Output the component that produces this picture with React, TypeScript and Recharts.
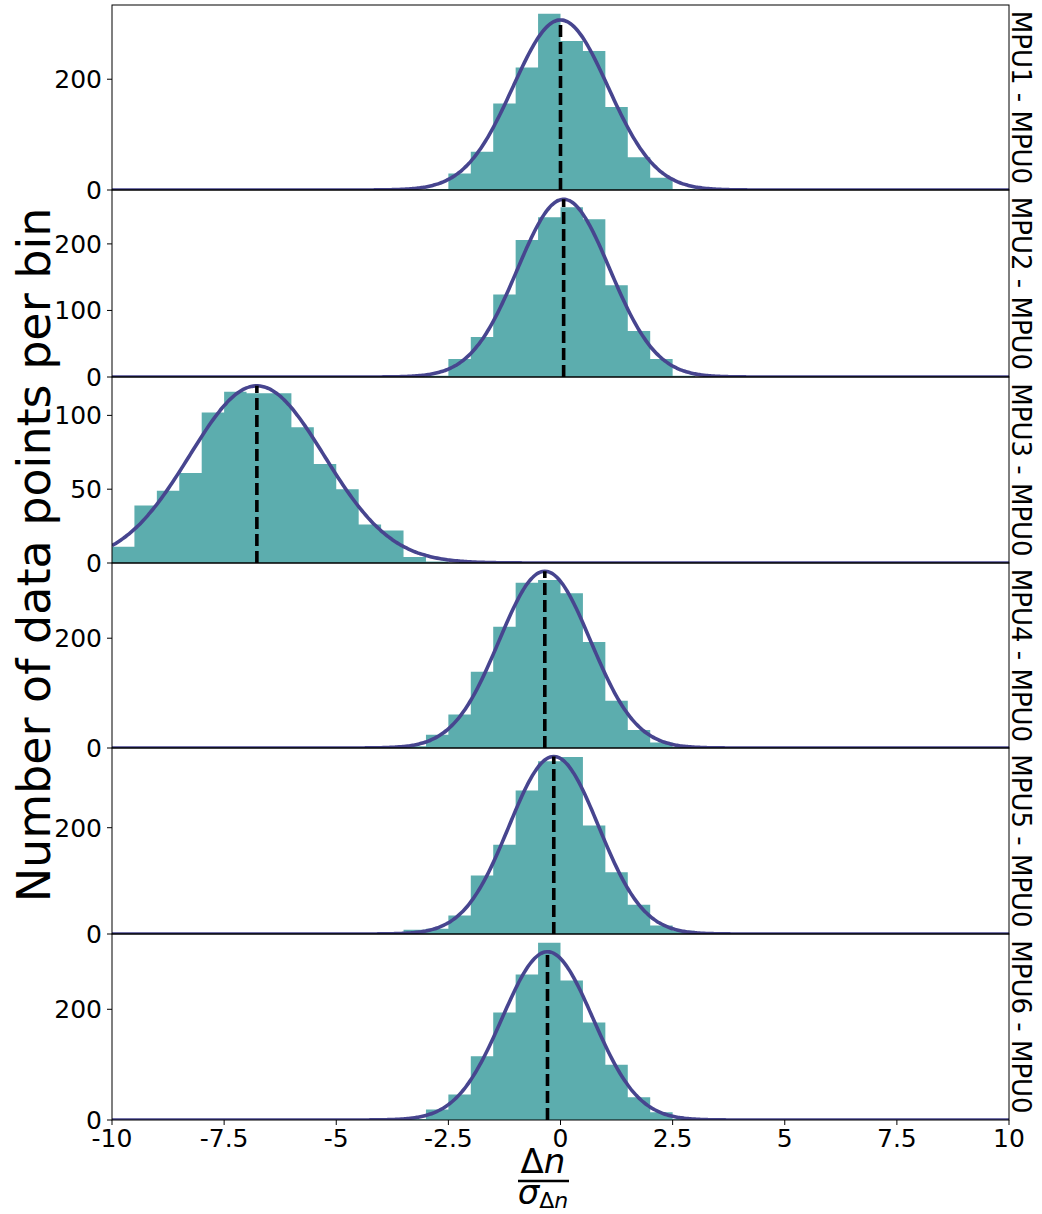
import React from "react";
import { ComposedChart, Area, Line, XAxis, YAxis, ReferenceLine } from "recharts";

// one entry per panel, top to bottom
const PANEL_LABELS = [
  "MPU1 - MPU0",
  "MPU2 - MPU0",
  "MPU3 - MPU0",
  "MPU4 - MPU0",
  "MPU5 - MPU0",
  "MPU6 - MPU0",
];

const BIN_WIDTH = 0.5;
const BIN_STARTS = [-3, -3, -10, -3.5, -3.5, -3.5];

const COUNTS_MPU1 = [2, 30, 69, 156, 221, 318, 269, 251, 150, 59, 22, 2];
const COUNTS_MPU2 = [2, 27, 60, 124, 206, 240, 255, 237, 138, 69, 27, 2];
const COUNTS_MPU3 = [11, 39, 49, 61, 102, 116, 115, 115, 92, 67, 50, 26, 22, 4, 1];
const COUNTS_MPU4 = [3, 24, 61, 139, 221, 301, 306, 282, 193, 86, 33, 10, 2];
const COUNTS_MPU5 = [8, 10, 35, 110, 168, 270, 325, 333, 204, 116, 55, 16, 6];
const COUNTS_MPU6 = [2, 19, 46, 115, 194, 263, 320, 252, 176, 100, 41, 14, 2];
const COUNTS = [COUNTS_MPU1, COUNTS_MPU2, COUNTS_MPU3, COUNTS_MPU4, COUNTS_MPU5, COUNTS_MPU6];

// gaussian fit
const FIT_MEANS = [0, 0.07, -6.77, -0.35, -0.15, -0.29];
const FIT_SIGMAS = [1.06, 1.03, 1.5, 1.02, 1.0, 1.01];
const FIT_PEAKS = [307, 267, 120, 322, 334, 304];

const Y_MAX = [334, 281, 126, 337, 350, 336];
const Y_TICKS = [[0, 200], [0, 100, 200], [0, 50, 100], [0, 200], [0, 200], [0, 200]];
const X_TICKS = [-10, -7.5, -5, -2.5, 0, 2.5, 5, 7.5, 10];

// layout
const W = 1042;
const PLOT_LEFT = 112;
const PLOT_RIGHT = 1009;
const EDGES = [5, 190, 377, 563, 748, 934, 1120];
const PAD = 16; // room above/below each plot so the edge tick labels are not clipped
const FONT = "DejaVu Sans";

const HIST_FILL = "#5cadae";
const FIT_COLOR = "#47458f";

function histRows(i: number) {
  const rows = COUNTS[i].map((c, k) => ({ x: BIN_STARTS[i] + k * BIN_WIDTH, h: c }));
  rows.push({ x: BIN_STARTS[i] + COUNTS[i].length * BIN_WIDTH, h: 0 });
  return rows;
}

function fitRows(i: number) {
  const rows: { x: number; g: number }[] = [];
  for (let k = 0; k <= 400; k++) {
    const x = -10 + k * 0.05;
    const d = x - FIT_MEANS[i];
    rows.push({ x, g: FIT_PEAKS[i] * Math.exp(-(d * d) / (2 * FIT_SIGMAS[i] * FIT_SIGMAS[i])) });
  }
  return rows;
}

function Panel({ i }: { i: number }) {
  const last = i === PANEL_LABELS.length - 1;
  const h = EDGES[i + 1] - EDGES[i];
  const tickStyle = { fontSize: 25, fill: "#000", fontFamily: FONT };
  return (
    <div style={{ position: "absolute", left: 0, top: EDGES[i] - PAD }}>
      <ComposedChart
        width={W}
        height={h + PAD + (last ? 40 : PAD)}
        margin={{ top: PAD, right: W - PLOT_RIGHT, bottom: last ? 0 : PAD, left: 0 }}
      >
        <XAxis
          type="number"
          dataKey="x"
          domain={[-10, 10]}
          allowDataOverflow
          ticks={X_TICKS}
          interval={0}
          hide={!last}
          height={40}
          axisLine={false}
          tickSize={5}
          tickMargin={4}
          tickLine={{ stroke: "#000" }}
          tick={tickStyle}
        />
        <YAxis
          type="number"
          domain={[0, Y_MAX[i]]}
          allowDataOverflow
          ticks={Y_TICKS[i]}
          interval={0}
          width={PLOT_LEFT}
          axisLine={false}
          tickSize={5}
          tickMargin={5}
          tickLine={{ stroke: "#000" }}
          tick={tickStyle}
        />
        <Area
          data={histRows(i)}
          dataKey="h"
          type="stepAfter"
          stroke="none"
          fill={HIST_FILL}
          fillOpacity={1}
          isAnimationActive={false}
        />
        <Line
          data={fitRows(i)}
          dataKey="g"
          type="monotone"
          stroke={FIT_COLOR}
          strokeWidth={3.6}
          dot={false}
          isAnimationActive={false}
        />
        <ReferenceLine
          segment={[
            { x: FIT_MEANS[i], y: 0 },
            { x: FIT_MEANS[i], y: FIT_PEAKS[i] },
          ]}
          stroke="#000"
          strokeWidth={3.6}
          strokeDasharray="12 5"
        />
      </ComposedChart>
    </div>
  );
}

export default function App() {
  return (
    <div
      style={{
        position: "absolute",
        left: 0,
        top: 0,
        width: W,
        height: 1214,
        background: "#fff",
        fontFamily: FONT,
      }}
    >
      {PANEL_LABELS.map((_, i) => (
        <Panel key={i} i={i} />
      ))}
      <svg
        width={W}
        height={1214}
        style={{ position: "absolute", left: 0, top: 0, pointerEvents: "none" }}
        fontFamily={FONT}
      >
        {PANEL_LABELS.map((label, i) => {
          const cy = (EDGES[i] + EDGES[i + 1]) / 2;
          return (
            <g key={label}>
              <rect
                x={PLOT_LEFT}
                y={EDGES[i]}
                width={PLOT_RIGHT - PLOT_LEFT}
                height={EDGES[i + 1] - EDGES[i]}
                fill="none"
                stroke="#000"
                strokeWidth={1}
              />
              <text
                x={1012}
                y={cy}
                fontSize={26}
                textAnchor="middle"
                transform={`rotate(90, 1012, ${cy})`}
              >
                {label}
              </text>
            </g>
          );
        })}
        <text x={50} y={555} fontSize={46} textAnchor="middle" transform="rotate(-90, 50, 555)">
          Number of data points per bin
        </text>
        <text x={543} y={1173} fontSize={34} textAnchor="middle">
          Δ<tspan fontStyle="italic">n</tspan>
        </text>
        <line x1={518} x2={569} y1={1181} y2={1181} stroke="#000" strokeWidth={2.5} />
        <text x={543} y={1204} fontSize={34} textAnchor="middle" fontStyle="italic">
          σ
          <tspan fontSize={22} dy={4} fontStyle="normal">
            Δ
          </tspan>
          <tspan fontSize={22} fontStyle="italic">
            n
          </tspan>
        </text>
      </svg>
    </div>
  );
}
